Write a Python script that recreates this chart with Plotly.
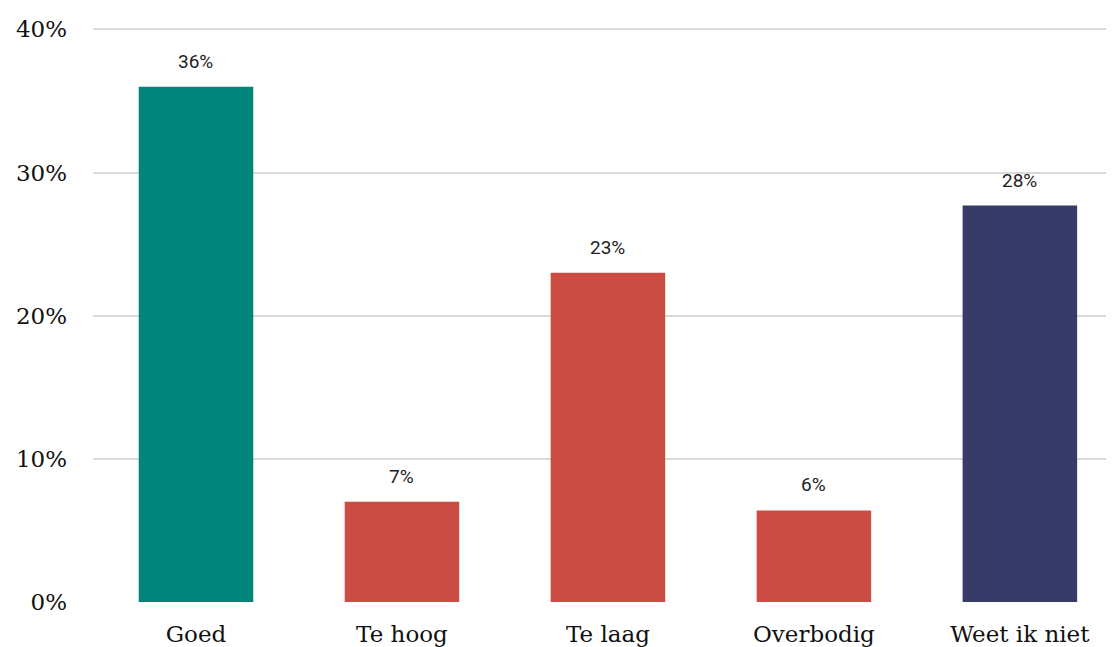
import plotly.graph_objects as go

categories = ["Goed", "Te hoog", "Te laag", "Overbodig", "Weet ik niet"]
values = [36, 7, 23, 6.4, 27.7]
labels = ["36%", "7%", "23%", "6%", "28%"]
colors = ["#00857A", "#CA4C43", "#CA4C43", "#CA4C43", "#383A68"]
y_ticks = [0, 10, 20, 30, 40]
y_tick_text = ["0%", "10%", "20%", "30%", "40%"]

fig = go.Figure()
fig.add_trace(go.Bar(
    x=list(range(len(categories))), y=values,
    marker=dict(color=colors, line=dict(width=0)),
    width=0.556, hoverinfo="skip",
))
for i, (v, t) in enumerate(zip(values, labels)):
    fig.add_annotation(x=i, y=v, text=t, showarrow=False, yanchor="bottom",
                       yshift=12, font=dict(family="Roboto", size=19, color="#222222"))

fig.update_layout(
    width=1114, height=647,
    margin=dict(l=80, r=8, t=13, b=52),
    plot_bgcolor="white", paper_bgcolor="white",
    showlegend=False,
    xaxis=dict(range=[-0.5, 4.457], tickmode="array",
               tickvals=list(range(len(categories))), ticktext=categories,
               showgrid=False, zeroline=False, showline=False,
               tickfont=dict(family="DejaVu Serif", size=23, color="#111111"),
               ticklabelstandoff=16),
    yaxis=dict(range=[0, 40.1], tickmode="array", tickvals=y_ticks, ticktext=y_tick_text,
               showgrid=True, gridcolor="#d9d9d9", gridwidth=2, zeroline=False,
               tickfont=dict(family="DejaVu Serif", size=23, color="#111111"),
               ticklabelstandoff=25),
)
fig.write_html("out.html")
